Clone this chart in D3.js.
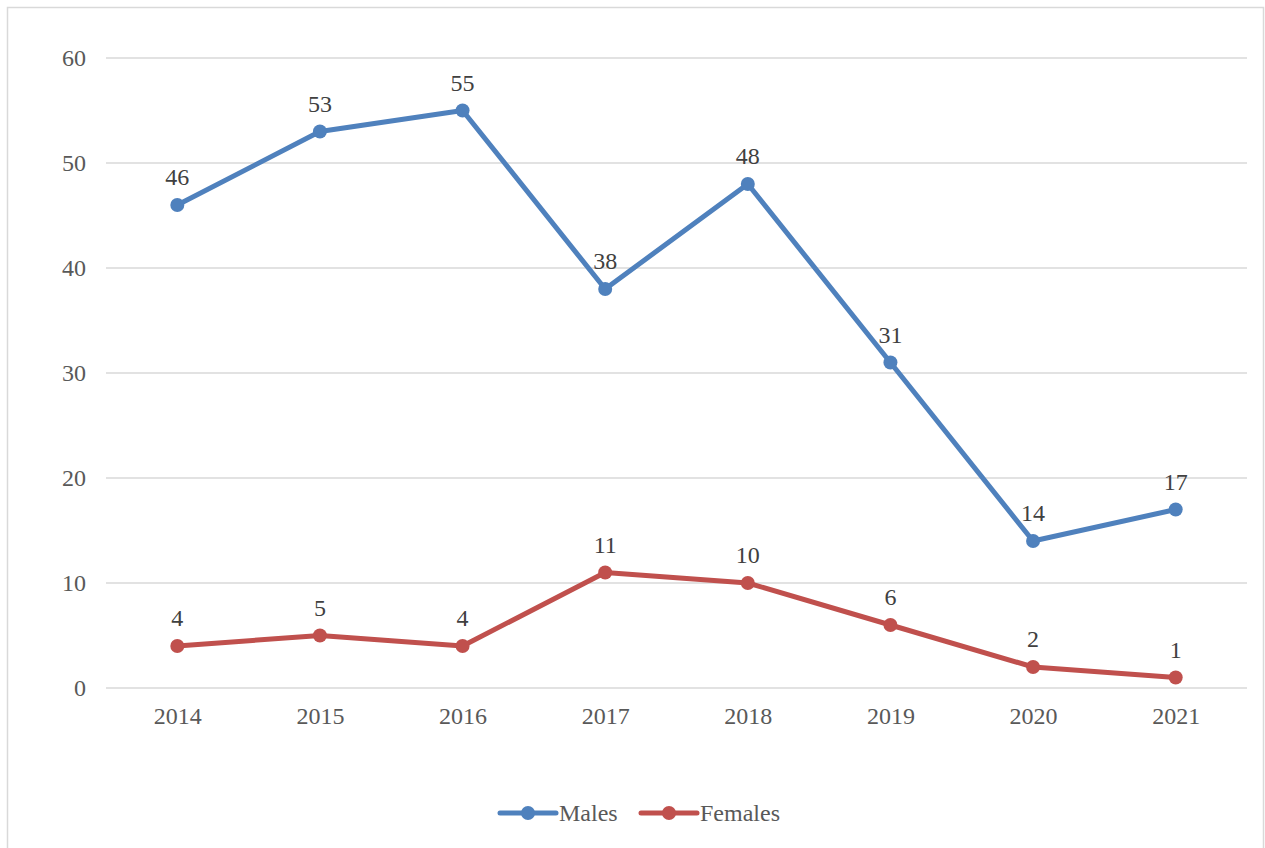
<!DOCTYPE html>
<html>
<head>
<meta charset="utf-8">
<script src="https://cdn.jsdelivr.net/npm/d3@7"></script>
<style>
  html, body { margin: 0; padding: 0; background: #fff; }
  svg { display: block; }
  svg text { font-family: "Liberation Serif", "DejaVu Serif", serif !important; }
</style>
</head>
<body>
<svg id="chart" width="1265" height="848"></svg>
<script>
// Yearly counts by sex
const years = ["2014", "2015", "2016", "2017", "2018", "2019", "2020", "2021"];
const males = [46, 53, 55, 38, 48, 31, 14, 17];
const females = [4, 5, 4, 11, 10, 6, 2, 1];
const yTicks = [0, 10, 20, 30, 40, 50, 60];
const seriesNames = ["Males", "Females"];
const seriesColors = ["#4f81bd", "#c0504d"];

const FONT = "'Liberation Serif', serif";
const FS = 24;

const svg = d3.select("#chart");
const W = 1265, H = 848;

// chart frame
svg.append("rect")
  .attr("x", 7.5).attr("y", 7.5)
  .attr("width", W - 9).attr("height", H)
  .attr("fill", "#fff").attr("stroke", "#d9d9d9").attr("stroke-width", 1.5);

const plot = { left: 106, right: 1247, top: 58, bottom: 688 };

const x = d3.scalePoint().domain(years)
  .range([plot.left, plot.right]).padding(0.5);
const y = d3.scaleLinear().domain([0, 60])
  .range([plot.bottom, plot.top]);

// horizontal gridlines
svg.append("g").selectAll("line").data(yTicks).join("line")
  .attr("x1", plot.left).attr("x2", plot.right)
  .attr("y1", d => y(d)).attr("y2", d => y(d))
  .attr("stroke", "#d9d9d9").attr("stroke-width", 1.5);

// y axis labels
const yAxis = svg.append("g")
  .attr("transform", `translate(${plot.left - 20},0)`)
  .call(d3.axisLeft(y).tickValues(yTicks).tickSize(0).tickPadding(0));
yAxis.attr("font-family", null).attr("font-size", null);
yAxis.select(".domain").remove();
yAxis.selectAll("text")
  .style("font-family", FONT)
  .style("font-size", FS + "px").attr("fill", "#595959");

// x axis labels
const xAxis = svg.append("g")
  .attr("transform", `translate(0,${plot.bottom + 19})`)
  .call(d3.axisBottom(x).tickSize(0).tickPadding(0));
xAxis.attr("font-family", null).attr("font-size", null);
xAxis.select(".domain").remove();
xAxis.selectAll("text")
  .style("font-family", FONT)
  .style("font-size", FS + "px").attr("fill", "#595959");

const line = d3.line().x((d, i) => x(years[i])).y(d => y(d));

[males, females].forEach((vals, s) => {
  const g = svg.append("g");
  g.append("path").datum(vals)
    .attr("d", line)
    .attr("fill", "none")
    .attr("stroke", seriesColors[s])
    .attr("stroke-width", 5)
    .attr("stroke-linejoin", "round")
    .attr("stroke-linecap", "round");
  g.selectAll("circle").data(vals).join("circle")
    .attr("cx", (d, i) => x(years[i])).attr("cy", d => y(d))
    .attr("r", 7).attr("fill", seriesColors[s]);
  g.selectAll("text").data(vals).join("text")
    .attr("x", (d, i) => x(years[i])).attr("y", d => y(d) - 20)
    .attr("text-anchor", "middle")
    .style("font-family", FONT)
    .style("font-size", FS + "px").attr("fill", "#404040")
    .text(d => d);
});

// legend
const legendY = 813;
const legendX = [500, 641];
seriesNames.forEach((name, s) => {
  const g = svg.append("g").attr("transform", `translate(${legendX[s]},${legendY})`);
  g.append("line").attr("x1", 0).attr("x2", 56).attr("y1", 0).attr("y2", 0)
    .attr("stroke", seriesColors[s]).attr("stroke-width", 5).attr("stroke-linecap", "round");
  g.append("circle").attr("cx", 28).attr("cy", 0).attr("r", 7).attr("fill", seriesColors[s]);
  g.append("text").attr("x", 59).attr("y", 8)
    .style("font-family", FONT)
    .style("font-size", FS + "px").attr("fill", "#595959").text(name);
});
</script>
</body>
</html>
